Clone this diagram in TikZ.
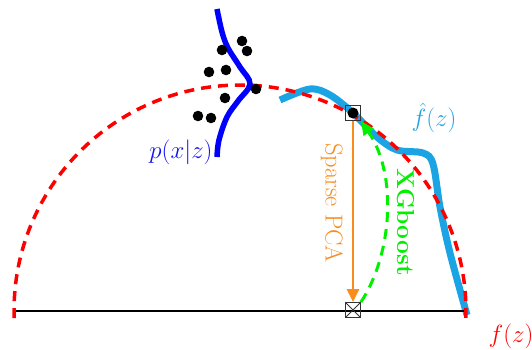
\documentclass[tikz,border=0pt]{standalone}
\usetikzlibrary{arrows.meta}
\definecolor{fcyan}{RGB}{27,164,228}
\definecolor{forange}{RGB}{250,140,30}
\definecolor{fgreen}{RGB}{0,240,0}
\definecolor{fblue}{RGB}{20,20,240}
\tikzset{
  redarc/.style={red, line width=3.5pt, dash pattern=on 10pt off 7pt},
  curvecyan/.style={fcyan, line width=7pt},
  curveblue/.style={blue, line width=5.5pt},
  sample/.style={black},
  marker/.style={draw=black!80, line width=0.8pt, minimum size=15pt, inner sep=0pt, fill=none},
  crossmarker/.style={marker, path picture={\draw[black!80, line width=0.8pt] (path picture bounding box.north west) -- (path picture bounding box.south east) (path picture bounding box.north east) -- (path picture bounding box.south west);}},
  orangearrow/.style={forange, line width=2.4pt, -{Triangle[length=13pt,width=12pt]}},
  greenarrow/.style={fgreen, line width=3pt, dash pattern=on 10pt off 7pt, -{Triangle[length=14pt,width=12pt]}},
  bigtext/.style={font=\fontsize{24.5}{29}\selectfont, inner sep=0pt},
  mathlabel/.style={font=\fontsize{25}{30}\selectfont, inner sep=0pt},
}
\begin{document}
\begin{tikzpicture}[x=1pt,y=-1pt]
\useasboundingbox (0,0) rectangle (532,349);
% fitted curve f-hat
\draw[curvecyan, line cap=butt] plot[smooth, tension=0.55] coordinates {(280,100) (310,89) (330,95) (353,113) (377,137) (397,150) (423,153) (433,164) (440,207) (450,253) (467,315)};
% baseline
\draw[black, line width=1.5pt] (14,311) -- (466,311);
% true curve f (red dashed semicircle)
\draw[redarc] (240,311) ++(178.2:226) arc[start angle=178.2, end angle=361.8, radius=226];
% p(x|z)
\draw[curveblue] plot[smooth, tension=0.6] coordinates {(217,9) (222,32) (228,48) (240,67) (250,84) (238,101) (227,117) (219,140) (217,157)};
% samples
\foreach \p in {(242,41),(222,50),(247,51),(209,72),(226,70),(256,89),(225,98),(198,116),(211,118)}
  \fill[sample] \p circle (5.3);
% markers
\node[marker] (ptop) at (353,113) {};
\fill[black] (ptop.center) circle (5.5);
\node[crossmarker] (pbot) at (353,310) {};
% arrows
\draw[greenarrow] (pbot.north east) .. controls (392,255) and (398,175) .. (ptop.south east);
\draw[orangearrow] (ptop.south) -- (pbot.north);
% labels
\node[bigtext, text=forange, rotate=-90] (spca) at (332,203) {Sparse PCA};
\node[bigtext, text=fgreen, rotate=-90] (xgb) at (406,222) {\bfseries XGboost};
\node[mathlabel, text=fblue] (lp) at (181,152) {$p(x|z)$};
\node[mathlabel, text=fcyan] (lfh) at (434,118) {$\hat f(z)$};
\node[mathlabel, text=red] (lf) at (511,336) {$f(z)$};
\end{tikzpicture}
\end{document}
